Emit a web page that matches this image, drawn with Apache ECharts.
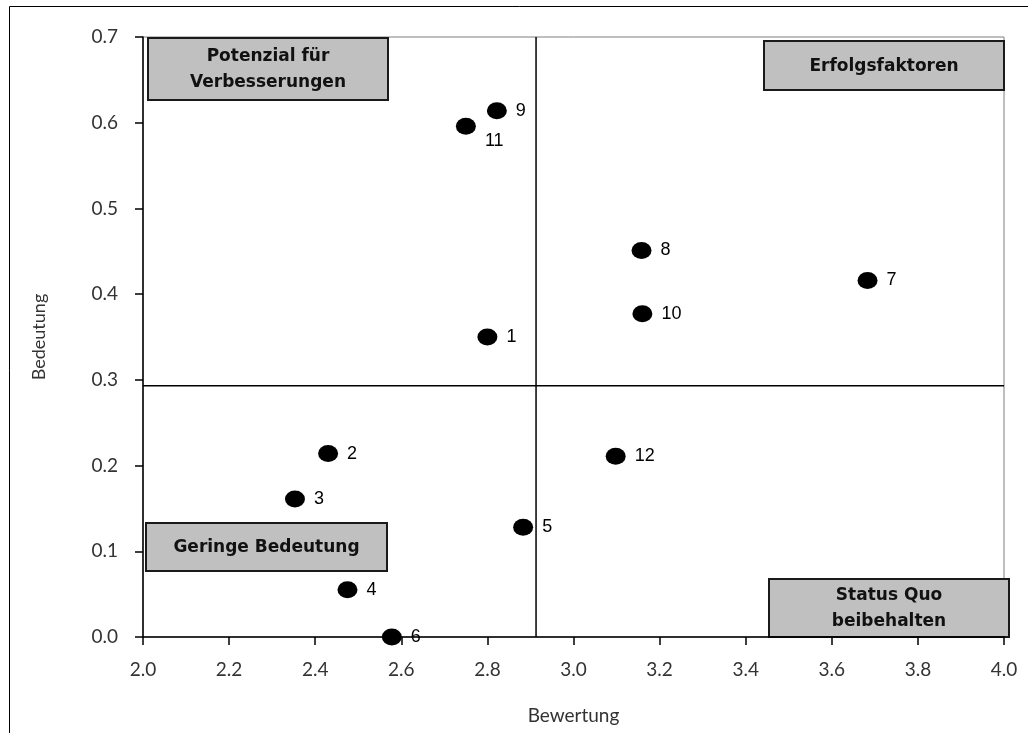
<!DOCTYPE html>
<html>
<head>
<meta charset="utf-8">
<script src="https://cdn.jsdelivr.net/npm/echarts@6/dist/echarts.min.js"></script>
<style>
  html, body { margin: 0; padding: 0; background: #fff; }
  #chartBox { width: 1028px; height: 733px; }
</style>
</head>
<body>
<div id="chartBox"></div>
<script>
// Punkte (Bewertung / Bedeutung)
const pointNames = ['1', '2', '3', '4', '5', '6', '7', '8', '9', '10', '11', '12'];
const bewertung = [2.80, 2.43, 2.353, 2.475, 2.883, 2.578, 3.683, 3.158, 2.822, 3.160, 2.750, 3.098];
const bedeutung = [0.350, 0.214, 0.161, 0.055, 0.128, 0.0, 0.416, 0.451, 0.614, 0.377, 0.596, 0.211];

// Quadranten-Trennlinien
const splitX = 2.913;
const splitY = 0.293;

// Achsen
const xTicks = ['2.0', '2.2', '2.4', '2.6', '2.8', '3.0', '3.2', '3.4', '3.6', '3.8', '4.0'];
const yTicks = ['0.0', '0.1', '0.2', '0.3', '0.4', '0.5', '0.6', '0.7'];
const xMin = 2.0, xMax = 4.0, yMin = 0, yMax = 0.7;

const seriesData = pointNames.map((name, i) => {
  let item = { name, value: [bewertung[i], bedeutung[i]] };
  // "11" sitzt unter dem Punkt
  if (name === '11') item.label = { offset: [2, 15], distance: 7 };
  return item;
});

function box(x, y, w, h, text) {
  return {
    type: 'group',
    left: x, top: y,
    children: [
      { type: 'rect', shape: { x: 0, y: 0, width: w, height: h },
        style: { fill: '#c0c0c0', stroke: '#1a1a1a', lineWidth: 2 } },
      { type: 'text', x: w / 2, y: h / 2 + 1,
        style: { text, fill: '#111', fontSize: 17, fontWeight: 'bold', fontFamily: '"DejaVu Sans"',
          align: 'center', verticalAlign: 'middle', lineHeight: 26 } }
    ]
  };
}

const splitLine = (data) => ({
  type: 'line',
  data,
  symbol: 'none',
  silent: true,
  lineStyle: { color: '#000', width: 1.5 },
  z: 3
});

const chart = echarts.init(document.getElementById('chartBox'));
chart.setOption({
  backgroundColor: '#fff',
  animation: false,
  grid: {
    left: 143, top: 37, right: 24, bottom: 96,
    show: true, borderColor: '#7f7f7f', borderWidth: 1
  },
  xAxis: {
    type: 'value',
    min: xMin, max: xMax, interval: 0.2,
    name: 'Bewertung',
    nameLocation: 'middle',
    nameGap: 69,
    nameTextStyle: { fontFamily: 'Lato', fontSize: 19, color: '#333' },
    axisLine: { show: true, onZero: false, lineStyle: { color: '#000', width: 1.5 } },
    axisTick: { show: true, length: 8, lineStyle: { color: '#000', width: 1.5 } },
    axisLabel: {
      margin: 23, fontFamily: 'Lato', fontSize: 19, color: '#333',
      formatter: (v) => xTicks[Math.round((v - 2.0) / 0.2)]
    },
    splitLine: { show: false }
  },
  yAxis: {
    type: 'value',
    min: yMin, max: yMax, interval: 0.1,
    name: 'Bedeutung',
    nameLocation: 'middle',
    nameGap: 95,
    nameTextStyle: { fontFamily: 'Lato', fontSize: 18, color: '#333' },
    axisLine: { show: true, onZero: false, lineStyle: { color: '#000', width: 1.5 } },
    axisTick: { show: true, length: 8, lineStyle: { color: '#000', width: 1.5 } },
    axisLabel: {
      margin: 25, fontFamily: 'Lato', fontSize: 19, color: '#333',
      formatter: (v) => yTicks[Math.round(v / 0.1)]
    },
    splitLine: { show: false }
  },
  series: [
    splitLine([[splitX, yMin], [splitX, yMax]]),
    splitLine([[xMin, splitY], [xMax, splitY]]),
    {
      type: 'scatter',
      symbol: 'circle',
      symbolSize: [20, 17],
      itemStyle: { color: '#000', opacity: 1 },
      label: {
        show: true, position: 'right', distance: 9,
        formatter: '{b}',
        fontFamily: '"Liberation Sans", Arial, sans-serif', fontSize: 18, color: '#000'
      },
      data: seriesData,
      z: 5
    }
  ],
  graphic: [
    { type: 'rect', shape: { x: 9.5, y: 6.5, width: 1100, height: 800 },
      style: { fill: 'none', stroke: '#000', lineWidth: 1 }, silent: true },
    box(147, 37, 240, 62, 'Potenzial für\nVerbesserungen'),
    box(763, 40, 240, 49, 'Erfolgsfaktoren'),
    box(145, 522, 241, 48, 'Geringe Bedeutung'),
    box(768, 578, 240, 58, 'Status Quo\nbeibehalten')
  ]
});
</script>
</body>
</html>
